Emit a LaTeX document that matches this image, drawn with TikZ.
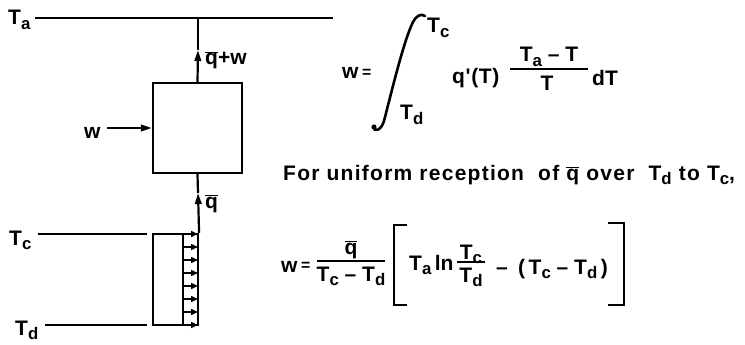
\documentclass[tikz,border=0pt]{standalone}
\usepackage{fontspec}
\setmainfont{Liberation Sans}
\newfontfamily\spaced{Liberation Sans}[LetterSpace=6]
\newfontfamily\wide{Liberation Sans}[LetterSpace=3]
\usetikzlibrary{arrows.meta,calc}
\newcommand\sbs[1]{\raisebox{-0.45ex}{\scalebox{0.8}{#1}}}
\newcommand\qb{\ensuremath{\overline{\mbox{q}}}}
\newcommand\eqs{\raisebox{0.1ex}{\scalebox{0.75}{=}}}
\begin{document}
\begin{tikzpicture}[x=1pt,y=-1pt,
  ln/.style={line width=2.2pt},
  arr/.style={ln,-{Triangle[length=11pt,width=6.5pt]}},
  sarr/.style={line width=1.5pt,-{Triangle[length=7pt,width=6pt]}},
  lbl/.style={inner sep=0pt,font=\fontsize{21}{24}\selectfont\bfseries},
  brk/.style={line width=2.6pt}]
\useasboundingbox (0,0) rectangle (745,345);
% ---- diagram
\coordinate (taL) at (35,18);
\coordinate (taR) at (333,18);
\coordinate (taV) at (198,18);
\draw[ln] (taL) -- (taR);
\node[ln,draw,minimum width=89pt,minimum height=90pt,inner sep=0pt] (box) at (197.5,128) {};
\coordinate (tipA) at (198,50);
\draw[arr] (box.north) -- (tipA);
\draw[ln] (tipA) -- (taV);
\coordinate (wS) at (107,128);
\draw[arr] (wS) -- (box.west);
\node[ln,draw,minimum width=45pt,minimum height=91pt,inner sep=0pt] (strip) at (175.5,279.5) {};
\coordinate (tipB) at (198,193);
\draw[arr] (strip.north east) -- (tipB);
\draw[ln] (tipB) -- (box.south);
\coordinate (inT) at (183,234);
\coordinate (inB) at (183,325);
\draw[ln] (inT) -- (inB);
\foreach \i in {0,...,7}{
  \coordinate (s\i) at ($(inT)!\i/7!(inB)$);
  \coordinate (e\i) at ($(s\i)+(15,0)$);
  \draw[sarr] (s\i) -- (e\i);
}
\coordinate (tcL) at (38,234);
\coordinate (tcR) at (147,234);
\coordinate (tdL) at (45,325);
\coordinate (tdR) at (147,325);
\draw[ln] (tcL) -- (tcR);
\draw[ln] (tdL) -- (tdR);
% ---- labels
\node[lbl,anchor=base west] (lta) at (8,25) {T\sbs{a}};
\node[lbl,anchor=base west] (ltc) at (9,245) {T\sbs{c}};
\node[lbl,anchor=base west] (ltd) at (15,335) {T\sbs{d}};
\node[lbl,anchor=base west] (lw) at (84,139) {w};
\node[lbl,anchor=base west] (lqw) at (205,65) {\qb+w};
\node[lbl,anchor=base west] (lq) at (205,208) {\qb};
% ---- formula 1
\node[lbl,anchor=base west] (f1w) at (342,79) {w\,\eqs};
\draw[line width=2.6pt,line cap=round] (373,127) .. controls (374,132) and (381,131) .. (384,121)
  .. controls (392,90) and (404,40) .. (413,22) .. controls (416,16) and (421,13) .. (425,16);
\fill (374,127) circle (2.6pt);
\node[lbl,anchor=base west] (f1up) at (427,33) {T\sbs{c}};
\node[lbl,anchor=base west] (f1lo) at (400,120) {T\sbs{d}};
\node[lbl,anchor=base west,font=\fontsize{21}{24}\selectfont\wide\bfseries] (f1q) at (452,84) {q{\char"27}(T)};
\coordinate (b1L) at (510,69);
\coordinate (b1R) at (588,69);
\draw[line width=2.4pt] (b1L) -- (b1R);
\node[lbl,anchor=base] (f1n) at (549,62) {T\sbs{a} -- T};
\node[lbl,anchor=base] (f1d) at (547,91) {T};
\node[lbl,anchor=base west] (f1dt) at (592,85) {dT};
% ---- sentence
\node[lbl,anchor=base west,font=\fontsize{21}{24}\selectfont\spaced\bfseries] (sent) at (283,180)
  {For uniform reception \ of \qb\ over \ T\sbs{d} to T\sbs{c},};
% ---- formula 2
\node[lbl,anchor=base west] (f2w) at (281,272) {w\,\eqs};
\coordinate (b2L) at (317,261);
\coordinate (b2R) at (385,261);
\draw[line width=2.4pt] (b2L) -- (b2R);
\node[lbl,anchor=base] (f2n) at (351,254) {\qb};
\node[lbl,anchor=base] (f2d) at (351,281) {T\sbs{c} -- T\sbs{d}};
\coordinate (lb1) at (407,225);
\coordinate (lb2) at (394,225);
\coordinate (lb3) at (394,305);
\coordinate (lb4) at (407,305);
\draw[brk] (lb1) -- (lb2) -- (lb3) -- (lb4);
\node[lbl,anchor=base west] (f2ta) at (409,270) {T\sbs{a}\,ln};
\coordinate (b3L) at (457,262);
\coordinate (b3R) at (485,262);
\draw[line width=2.4pt] (b3L) -- (b3R);
\node[lbl,anchor=base] (f2fn) at (471,259) {T\sbs{c}};
\node[lbl,anchor=base] (f2fd) at (471,282) {T\sbs{d}};
\node[lbl,anchor=base west] (f2m) at (496,274) {--};
\node[lbl,anchor=base west] (f2p) at (518,274) {(\,T\sbs{c} -- T\sbs{d}\,)};
\coordinate (rb1) at (608,223);
\coordinate (rb2) at (624,223);
\coordinate (rb3) at (624,305);
\coordinate (rb4) at (608,305);
\draw[brk] (rb1) -- (rb2) -- (rb3) -- (rb4);
\end{tikzpicture}
\end{document}
